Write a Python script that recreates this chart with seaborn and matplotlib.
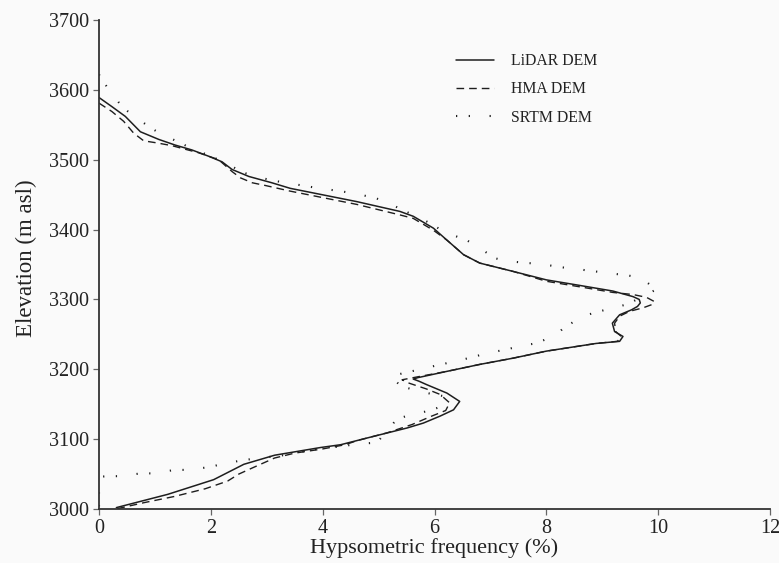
import matplotlib
matplotlib.use("Agg")
import matplotlib.pyplot as plt
import seaborn as sns

# hypsometric curves: elevation (m asl) and frequency (%)
lidar_elev = [3589, 3576, 3562, 3540, 3529, 3521, 3514, 3505, 3497, 3486, 3476,
              3467, 3459, 3440, 3426, 3419, 3402, 3385, 3364, 3352, 3340, 3328,
              3320, 3312, 3304, 3300, 3295, 3290, 3285, 3278, 3266, 3254, 3247,
              3240, 3237, 3226, 3216, 3207, 3197, 3188, 3186, 3183, 3178, 3166,
              3154, 3142, 3133, 3123, 3116, 3104, 3092, 3088, 3077, 3064, 3042,
              3021, 3002]
lidar_freq = [0.0, 0.23, 0.47, 0.74, 1.07, 1.36, 1.66, 1.96, 2.20, 2.38, 2.68,
              3.09, 3.42, 4.61, 5.38, 5.62, 5.98, 6.22, 6.52, 6.81, 7.41, 8.00,
              8.60, 9.19, 9.55, 9.66, 9.68, 9.63, 9.52, 9.31, 9.18, 9.22, 9.37,
              9.31, 8.89, 8.00, 7.41, 6.81, 6.22, 5.70, 5.62, 5.72, 5.86, 6.22,
              6.45, 6.34, 6.10, 5.80, 5.51, 4.91, 4.32, 3.96, 3.14, 2.59, 2.05,
              1.23, 0.31]

hma_elev = [3581, 3569, 3555, 3538, 3527, 3524, 3520, 3515, 3510, 3500, 3483,
            3474, 3467, 3463, 3455, 3436, 3421, 3416, 3399, 3385, 3364, 3352,
            3340, 3326, 3318, 3310, 3307, 3303, 3297, 3293, 3288, 3283, 3276,
            3266, 3254, 3247, 3240, 3237, 3226, 3216, 3207, 3197, 3190, 3185,
            3180, 3172, 3164, 3152, 3141, 3133, 3121, 3109, 3098, 3092, 3086,
            3080, 3073, 3058, 3050, 3040, 3029, 3018, 3009, 3000]
hma_freq = [0.0, 0.23, 0.44, 0.62, 0.80, 1.04, 1.31, 1.54, 1.78, 2.14, 2.38,
            2.53, 2.74, 2.98, 3.42, 4.61, 5.38, 5.62, 5.98, 6.22, 6.52, 6.81,
            7.41, 8.00, 8.60, 9.19, 9.55, 9.79, 9.93, 9.90, 9.73, 9.49, 9.31,
            9.22, 9.24, 9.34, 9.27, 8.89, 8.00, 7.41, 6.81, 6.22, 5.75, 5.42,
            5.55, 5.85, 6.10, 6.27, 6.20, 5.95, 5.60, 5.15, 4.62, 4.40, 4.00,
            3.50, 3.14, 2.72, 2.50, 2.30, 1.90, 1.35, 0.80, 0.30]

srtm_elev = [3622, 3615, 3601, 3576, 3565, 3547, 3538, 3525, 3517, 3505, 3494,
             3483, 3477, 3470, 3467, 3462, 3459, 3455, 3452, 3446, 3440, 3410,
             3396, 3385, 3376, 3359, 3355, 3352, 3351, 3346, 3344, 3340, 3338,
             3334, 3331, 3314, 3293, 3289, 3281, 3276, 3260, 3248, 3237, 3234,
             3227, 3224, 3216, 3212, 3205, 3201, 3194, 3190, 3176, 3171, 3164,
             3161, 3147, 3141, 3134, 3129, 3112, 3095, 3093, 3090, 3086, 3077,
             3072, 3070, 3064, 3060, 3056, 3056, 3051, 3051, 3047, 3047, 3046,
             3000]
srtm_freq = [0.0, 0.05, 0.17, 0.41, 0.58, 0.90, 1.08, 1.43, 1.63, 2.00, 2.30,
             2.54, 2.74, 3.12, 3.34, 3.72, 3.94, 4.32, 4.53, 4.91, 5.12, 5.90,
             6.19, 6.57, 6.76, 7.08, 7.28, 7.68, 7.88, 8.27, 8.49, 8.88, 9.09,
             9.48, 9.70, 9.96, 9.45, 9.24, 8.86, 8.66, 8.32, 8.16, 7.80, 7.59,
             7.20, 6.99, 6.61, 6.40, 6.01, 5.80, 5.42, 5.21, 5.40, 5.61, 5.98,
             6.21, 6.13, 5.92, 5.54, 5.33, 5.15, 4.97, 4.59, 4.37, 3.90, 3.30,
             2.78, 2.58, 2.18, 1.98, 1.57, 1.36, 0.96, 0.75, 0.36, 0.15, 0.0,
             0.0]

sns.set_theme(style="ticks")
plt.rcParams["font.family"] = ["Liberation Serif", "DejaVu Serif"]

bg = "#fafafa"
ink = "#1e1e1e"

fig = plt.figure(figsize=(7.79, 5.63), dpi=100, facecolor=bg)
ax = fig.add_axes([0.1271, 0.0959, 0.8614, 0.8686])
ax.set_facecolor(bg)

sns.lineplot(x=lidar_freq, y=lidar_elev, sort=False, estimator=None,
             color=ink, linewidth=1.1, label="LiDAR DEM", ax=ax)
sns.lineplot(x=hma_freq, y=hma_elev, sort=False, estimator=None,
             color=ink, linewidth=1.0, label="HMA DEM", ax=ax)
sns.lineplot(x=srtm_freq, y=srtm_elev, sort=False, estimator=None,
             color=ink, linewidth=1.5, label="SRTM DEM", ax=ax)
ax.lines[1].set_dashes((5.5, 3.6))
ax.lines[2].set_dashes((0.6, 5.5, 0.6, 9.4))

ax.set_xlim(0, 12)
ax.set_ylim(3000, 3700)
ax.set_xticks(range(0, 13, 2))
ax.set_yticks(range(3000, 3701, 100))

sns.despine(ax=ax)
for side in ("left", "bottom"):
    ax.spines[side].set_color("#333333")
    ax.spines[side].set_linewidth(1.3)
ax.tick_params(axis="both", direction="out", length=4, width=0.9,
               color="#666666", labelsize=14.5, labelcolor="#222222", pad=3)

ax.set_xlabel("Hypsometric frequency (%)", fontsize=16, color="#222222",
              labelpad=0)
ax.set_ylabel("Elevation (m asl)", fontsize=16.5, color="#222222")
ax.yaxis.set_label_coords(-0.092, 0.512)

leg = ax.legend(loc="upper left", bbox_to_anchor=(0.532, 0.932), frameon=False,
                fontsize=11.3, handlelength=2.4, handletextpad=1.1,
                labelspacing=0.78, borderpad=0, borderaxespad=0)
for t in leg.get_texts():
    t.set_color("#222222")

fig.savefig("out.png", dpi=100, facecolor=bg)
